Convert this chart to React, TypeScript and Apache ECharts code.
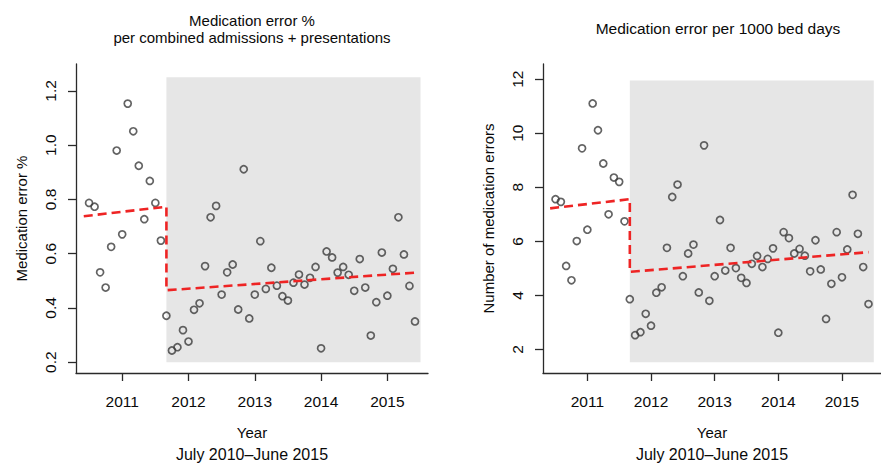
import React, { useEffect, useRef } from "react";
import * as echarts from "echarts";

// Monthly observations, July 2010 – June 2015 (time in fractional years)
const months: number[] = Array.from({ length: 60 }, (_, i) => 2010.5 + i / 12);

const yearTicks = [2011, 2012, 2013, 2014, 2015];
const pctTicks = [0.2, 0.4, 0.6, 0.8, 1.0, 1.2];
const bedTicks = [2, 4, 6, 8, 10, 12];

// Medication error % per combined admissions + presentations
const errorPct = [
  0.787, 0.773, 0.531, 0.475, 0.625, 0.98, 0.671, 1.153, 1.051, 0.924, 0.727, 0.868,
  0.787, 0.648, 0.371, 0.243, 0.255, 0.318, 0.276, 0.393, 0.417, 0.554, 0.734, 0.776,
  0.449, 0.531, 0.56, 0.394, 0.911, 0.361, 0.449, 0.646, 0.47, 0.548, 0.482, 0.443,
  0.427, 0.493, 0.523, 0.486, 0.511, 0.551, 0.251, 0.608, 0.586, 0.53, 0.551, 0.522,
  0.463, 0.58, 0.475, 0.298, 0.421, 0.604, 0.445, 0.544, 0.734, 0.597, 0.481, 0.35,
];

// Medication errors per 1000 bed days
const errorPer1000 = [
  7.56, 7.46, 5.09, 4.56, 6.01, 9.44, 6.43, 11.1, 10.11, 8.88, 7.0, 8.36,
  8.2, 6.74, 3.86, 2.53, 2.64, 3.32, 2.88, 4.1, 4.3, 5.76, 7.64, 8.1,
  4.71, 5.55, 5.88, 4.11, 9.55, 3.8, 4.71, 6.79, 4.92, 5.76, 5.01, 4.65,
  4.46, 5.17, 5.46, 5.05, 5.35, 5.74, 2.62, 6.34, 6.12, 5.55, 5.72, 5.47,
  4.89, 6.04, 4.96, 3.13, 4.43, 6.34, 4.67, 5.7, 7.72, 6.28, 5.05, 3.68,
];

// Segmented regression fits (pre / post intervention)
const pctFit: [number, number][] = [
  [2010.42, 0.738],
  [2011.667, 0.773],
  [2011.667, 0.465],
  [2015.417, 0.53],
];
const bedFit: [number, number][] = [
  [2010.415, 7.22],
  [2011.667, 7.56],
  [2011.667, 4.87],
  [2015.417, 5.6],
];

// Intervention period shading
const shadeX = [2011.667, 2015.5];
const pctShadeY = [0.2, 1.25];
const bedShadeY = [1.53, 11.95];

const FONT = "'Liberation Sans', Arial, Helvetica, sans-serif";
const TXT = "#0a0a0a";
const AX = "#2a2a2a";

export default function App() {
  const ref = useRef<HTMLDivElement>(null);

  useEffect(() => {
    if (!ref.current) return;
    const chart = echarts.init(ref.current, null, { renderer: "svg" });

    const xAxisBase = (gridIndex: number) => ({
      type: "value" as const,
      gridIndex,
      min: 2010.303,
      max: 2015.613,
      axisLine: { show: true, lineStyle: { color: AX, width: 1.3 } },
      axisTick: {
        show: true,
        length: 8,
        customValues: yearTicks,
        lineStyle: { color: AX, width: 1.3 },
      },
      axisLabel: {
        customValues: yearTicks,
        formatter: (v: number) => String(v),
        fontSize: 15.5,
        color: TXT,
        fontFamily: FONT,
        margin: 20,
      },
      splitLine: { show: false },
      name: "{a|Year}\n{b|July 2010–June 2015}",
      nameLocation: "middle" as const,
      nameGap: 49,
      nameTextStyle: {
        color: TXT,
        fontFamily: FONT,
        rich: {
          a: { fontSize: 15, lineHeight: 21, color: TXT, fontFamily: FONT },
          b: { fontSize: 16, lineHeight: 22, color: TXT, fontFamily: FONT },
        },
      },
    });

    const yAxisBase = (
      gridIndex: number,
      min: number,
      max: number,
      ticks: number[],
      name: string,
      fmt: (v: number) => string
    ) => ({
      type: "value" as const,
      gridIndex,
      min,
      max,
      axisLine: { show: true, lineStyle: { color: AX, width: 1.3 } },
      axisTick: {
        show: true,
        length: 8,
        customValues: ticks,
        lineStyle: { color: AX, width: 1.3 },
      },
      axisLabel: {
        customValues: ticks,
        formatter: fmt,
        rotate: 90,
        fontSize: 15.5,
        color: TXT,
        fontFamily: FONT,
        margin: 18,
      },
      splitLine: { show: false },
      name,
      nameLocation: "middle" as const,
      nameRotate: 90,
      nameGap: 47,
      nameTextStyle: { fontSize: 15, color: TXT, fontFamily: FONT },
    });

    const pointStyle = {
      color: "rgba(0,0,0,0)",
      borderColor: "#3c3c3c",
      borderWidth: 1.7,
    };
    const fitStyle = { color: "#ee2424", width: 2.6, type: [9, 5] as number[] };

    chart.setOption({
      animation: false,
      backgroundColor: "#ffffff",
      grid: [
        { left: 76, top: 64, width: 352, height: 311 },
        { left: 543, top: 64, width: 351, height: 311 },
      ],
      xAxis: [xAxisBase(0), xAxisBase(1)],
      yAxis: [
        yAxisBase(0, 0.16, 1.299, pctTicks, "Medication error %", (v: number) => v.toFixed(1)),
        yAxisBase(1, 1.13, 12.56, bedTicks, "Number of medication errors", (v: number) => String(v)),
      ],
      graphic: [
        {
          type: "text",
          x: 252,
          y: 29,
          style: {
            text: "Medication error %\nper combined admissions + presentations",
            align: "center",
            verticalAlign: "middle",
            fontSize: 15,
            lineHeight: 17,
            fontFamily: FONT,
            fill: TXT,
          },
        },
        {
          type: "text",
          x: 718,
          y: 28,
          style: {
            text: "Medication error per 1000 bed days",
            align: "center",
            verticalAlign: "middle",
            fontSize: 15.5,
            fontFamily: FONT,
            fill: TXT,
          },
        },
      ],
      series: [
        {
          type: "scatter",
          xAxisIndex: 0,
          yAxisIndex: 0,
          symbol: "circle",
          symbolSize: 7,
          itemStyle: pointStyle,
          data: months.map((t, i) => [t, errorPct[i]]),
          z: 3,
          silent: true,
          markArea: {
            silent: true,
            itemStyle: { color: "#e6e6e6" },
            data: [[{ coord: [shadeX[0], pctShadeY[0]] }, { coord: [shadeX[1], pctShadeY[1]] }]],
          },
        },
        {
          type: "line",
          xAxisIndex: 0,
          yAxisIndex: 0,
          symbol: "none",
          data: pctFit,
          lineStyle: fitStyle,
          z: 5,
          silent: true,
        },
        {
          type: "scatter",
          xAxisIndex: 1,
          yAxisIndex: 1,
          symbol: "circle",
          symbolSize: 7,
          itemStyle: pointStyle,
          data: months.map((t, i) => [t, errorPer1000[i]]),
          z: 3,
          silent: true,
          markArea: {
            silent: true,
            itemStyle: { color: "#e6e6e6" },
            data: [[{ coord: [shadeX[0], bedShadeY[0]] }, { coord: [shadeX[1], bedShadeY[1]] }]],
          },
        },
        {
          type: "line",
          xAxisIndex: 1,
          yAxisIndex: 1,
          symbol: "none",
          data: bedFit,
          lineStyle: fitStyle,
          z: 5,
          silent: true,
        },
      ],
    });

    return () => chart.dispose();
  }, []);

  return (
    <div
      ref={ref}
      style={{ position: "fixed", left: 0, top: 0, width: 881, height: 467, overflow: "hidden" }}
    />
  );
}
